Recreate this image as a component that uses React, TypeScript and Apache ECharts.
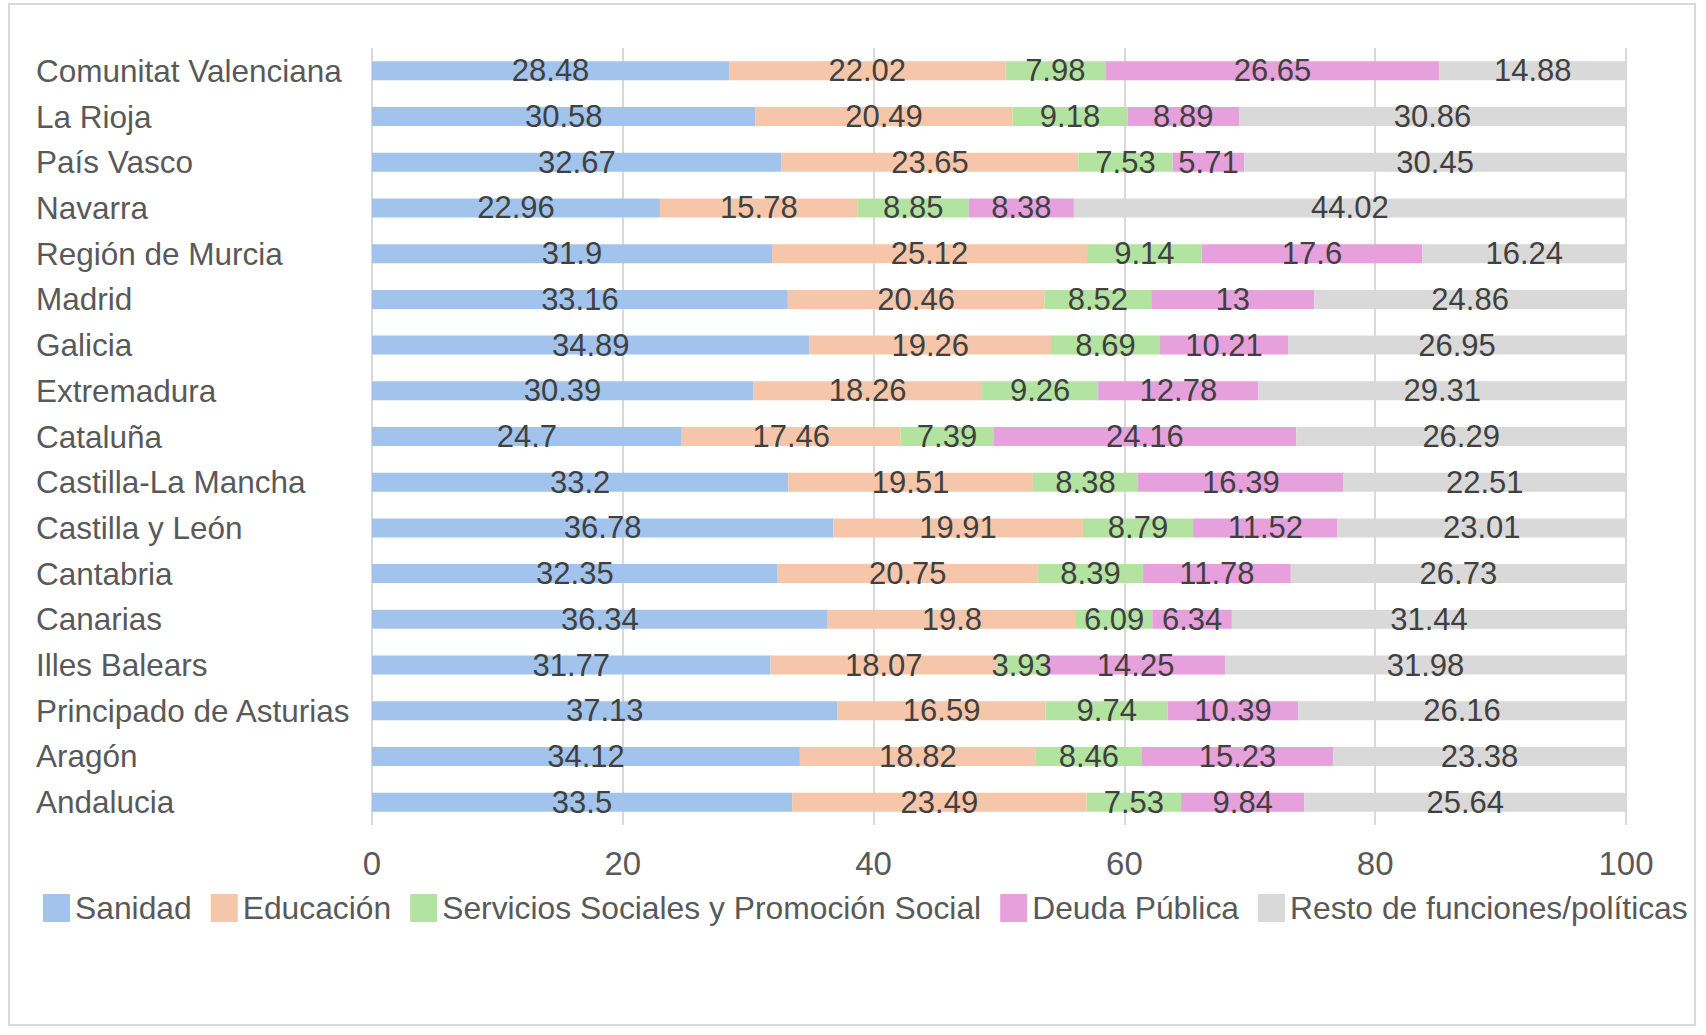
import { useEffect, useRef } from 'react';
import * as echarts from 'echarts';

const regions = [
  'Comunitat Valenciana',
  'La Rioja',
  'País Vasco',
  'Navarra',
  'Región de Murcia',
  'Madrid',
  'Galicia',
  'Extremadura',
  'Cataluña',
  'Castilla-La Mancha',
  'Castilla y León',
  'Cantabria',
  'Canarias',
  'Illes Balears',
  'Principado de Asturias',
  'Aragón',
  'Andalucia',
];

const seriesNames = [
  'Sanidad',
  'Educación',
  'Servicios Sociales y Promoción Social',
  'Deuda Pública',
  'Resto de funciones/políticas',
];

const sanidad = [28.48, 30.58, 32.67, 22.96, 31.9, 33.16, 34.89, 30.39, 24.7, 33.2, 36.78, 32.35, 36.34, 31.77, 37.13, 34.12, 33.5];
const educacion = [22.02, 20.49, 23.65, 15.78, 25.12, 20.46, 19.26, 18.26, 17.46, 19.51, 19.91, 20.75, 19.8, 18.07, 16.59, 18.82, 23.49];
const serviciosSociales = [7.98, 9.18, 7.53, 8.85, 9.14, 8.52, 8.69, 9.26, 7.39, 8.38, 8.79, 8.39, 6.09, 3.93, 9.74, 8.46, 7.53];
const deudaPublica = [26.65, 8.89, 5.71, 8.38, 17.6, 13, 10.21, 12.78, 24.16, 16.39, 11.52, 11.78, 6.34, 14.25, 10.39, 15.23, 9.84];
const resto = [14.88, 30.86, 30.45, 44.02, 16.24, 24.86, 26.95, 29.31, 26.29, 22.51, 23.01, 26.73, 31.44, 31.98, 26.16, 23.38, 25.64];

const seriesValues = [sanidad, educacion, serviciosSociales, deudaPublica, resto];
const colors = ['#a2c4ec', '#f6c6aa', '#b3e3a0', '#e6a0dc', '#d9d9d9'];

const FONT = '"Liberation Sans", Arial, sans-serif';

export default function App() {
  const chartRef = useRef<HTMLDivElement>(null);

  useEffect(() => {
    if (!chartRef.current) return;
    const chart = echarts.init(chartRef.current, null, { renderer: 'svg' });

    const option: echarts.EChartsOption = {
      animation: false,
      backgroundColor: '#ffffff',
      textStyle: { fontFamily: FONT },
      graphic: [
        {
          type: 'rect',
          z: -10,
          shape: { x: 9, y: 4, width: 1686, height: 1021 },
          style: { fill: '#ffffff', stroke: '#d9d9d9', lineWidth: 2 },
        },
      ],
      grid: {
        left: 372,
        right: 80,
        top: 48,
        bottom: 210,
      },
      legend: {
        data: seriesNames,
        left: 43,
        top: 892,
        width: 1680,
        icon: 'rect',
        itemWidth: 27,
        itemHeight: 28,
        itemGap: 19,
        padding: 0,
        textStyle: { fontSize: 31.8, color: '#595959', fontFamily: FONT },
      },
      xAxis: {
        type: 'value',
        min: 0,
        max: 100,
        interval: 20,
        axisLine: { show: false },
        axisTick: { show: false },
        axisLabel: { fontSize: 33, color: '#595959', margin: 22, fontFamily: FONT },
        splitLine: { lineStyle: { color: '#d9d9d9', width: 2 } },
      },
      yAxis: {
        type: 'category',
        inverse: true,
        data: regions,
        axisLine: { show: false },
        axisTick: { show: false },
        axisLabel: {
          fontSize: 31.5,
          color: '#595959',
          align: 'left',
          margin: 336,
          fontFamily: FONT,
        },
      },
      series: seriesNames.map((name, i) => ({
        name,
        type: 'bar',
        stack: 'total',
        barWidth: 19,
        itemStyle: { color: colors[i] },
        label: {
          show: true,
          position: 'inside',
          fontSize: 31,
          color: '#404040',
          fontFamily: FONT,
        },
        data: seriesValues[i],
      })),
    };

    chart.setOption(option);
    return () => chart.dispose();
  }, []);

  return (
    <div style={{ position: 'fixed', left: 0, top: 0, width: 1706, height: 1035, background: '#ffffff' }}>
      <div ref={chartRef} style={{ width: 1706, height: 1035 }} />
    </div>
  );
}
